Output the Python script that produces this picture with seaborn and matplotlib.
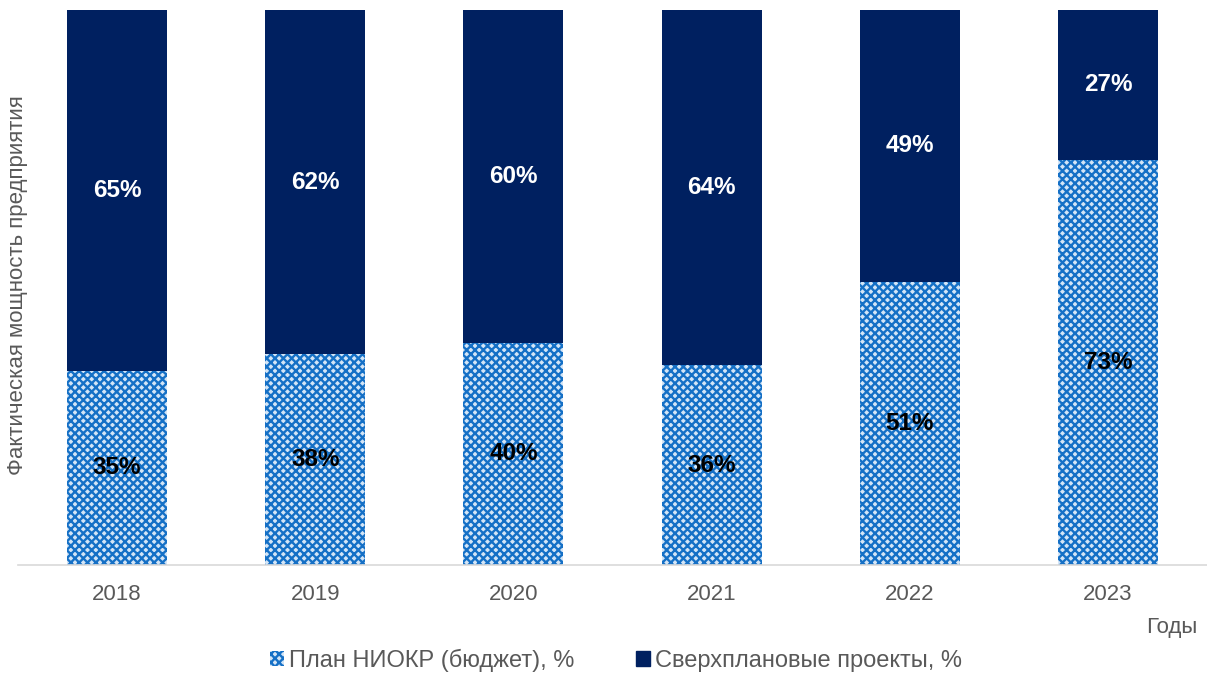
import matplotlib
matplotlib.use("Agg")
import matplotlib.pyplot as plt
import matplotlib.patches as mpatches
import seaborn as sns
import pandas as pd

years = ["2018", "2019", "2020", "2021", "2022", "2023"]
plan_pct = [35, 38, 40, 36, 51, 73]
extra_pct = [65, 62, 60, 64, 49, 27]

plan_name = "План НИОКР (бюджет), %"
extra_name = "Сверхплановые проекты, %"

sns.set_theme(style="white")
plt.rcParams["font.family"] = ["Liberation Sans", "DejaVu Sans"]
plt.rcParams["hatch.linewidth"] = 1.7
plt.rcParams["hatch.color"] = "#1a70c4"

df = pd.DataFrame({"year": years, "plan": plan_pct, "extra": extra_pct})
df["total"] = df["plan"] + df["extra"]

navy = "#002060"
light = "#d4e5f6"
pattern = "#1570c6"
grey = "#595959"

fig = plt.figure(figsize=(12.07, 6.74), dpi=100)
ax = fig.add_axes([18 / 1207, 1 - 565 / 674, 1 - 18 / 1207, (565 - 10) / 674])

# full-height bars for the over-plan share, plan share drawn over them
sns.barplot(data=df, x="year", y="total", color=navy, saturation=1, width=0.505,
            ax=ax, linewidth=0)
sns.barplot(data=df, x="year", y="plan", color=light, saturation=1, width=0.505,
            ax=ax, linewidth=0)
for p in ax.patches[len(years):]:
    p.set_hatch("xxxx")
    p.set_edgecolor(pattern)
    p.set_linewidth(0)

ax.set_ylim(0, 100)
ax.set_xlim(-0.5, len(years) - 0.5)

for i, (p, e) in enumerate(zip(plan_pct, extra_pct)):
    ax.text(i, p / 2, f"{p}%", ha="center", va="center", fontsize=17.5,
            fontweight="bold", color="black")
    ax.text(i, p + e / 2, f"{e}%", ha="center", va="center", fontsize=17.5,
            fontweight="bold", color="white")

ax.set_yticks([])
ax.set_xlabel("")
ax.set_ylabel("")
ax.tick_params(axis="x", length=0, labelsize=16, colors=grey, pad=14)
for s in ["top", "right", "left"]:
    ax.spines[s].set_visible(False)
ax.spines["bottom"].set_color("#d9d9d9")
ax.spines["bottom"].set_linewidth(1.2)

fig.text(18 / 1207, 1 - 285 / 674, "Фактическая мощность предприятия",
         rotation=90, ha="center", va="center", fontsize=16, color=grey)
fig.text(1197 / 1207, 1 - 628 / 674, "Годы", ha="right", va="center",
         fontsize=16, color=grey)

h_plan = mpatches.Patch(facecolor=light, hatch="xxxx", edgecolor=pattern,
                        linewidth=0, label=plan_name)
h_extra = mpatches.Patch(facecolor=navy, edgecolor=navy, label=extra_name)
fig.legend(handles=[h_plan, h_extra], loc="center",
           bbox_to_anchor=(616 / 1207, 1 - 660 / 674),
           ncol=2, frameon=False, fontsize=17, labelcolor=grey,
           handlelength=0.6, handleheight=0.6, handletextpad=0.2,
           columnspacing=2.6)

fig.savefig("out.png", dpi=100)
